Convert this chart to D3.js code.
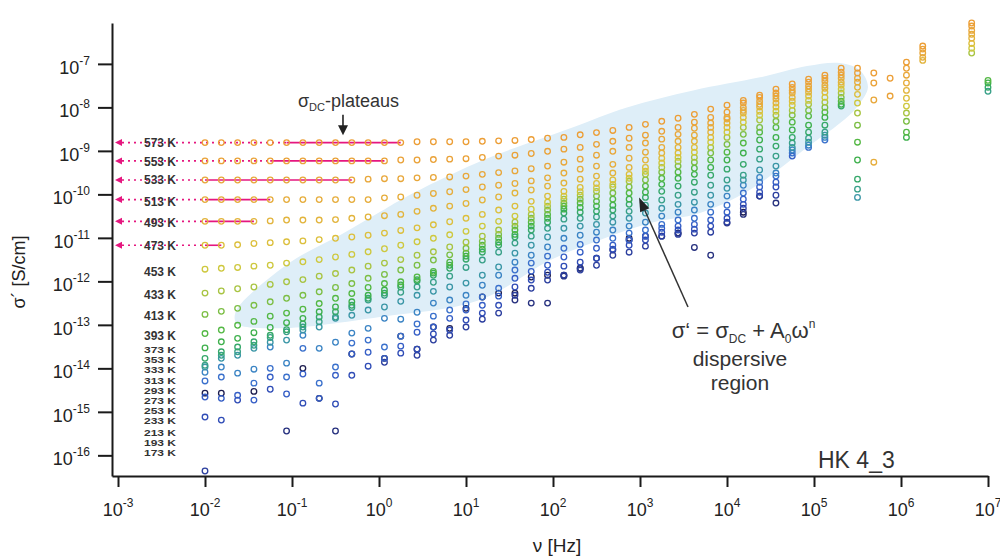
<!DOCTYPE html>
<html><head><meta charset="utf-8">
<script src="https://cdn.jsdelivr.net/npm/d3@7"></script>
<style>
html,body{margin:0;padding:0;background:#fff;}
svg{display:block;font-family:"Liberation Sans",Arial,Helvetica,sans-serif;}
</style></head><body>
<svg id="chart" width="1000" height="558"></svg>
<script>
// ---------- DATA ----------
// measurement frequencies (Hz)
const frequencies = [0.01,0.0154,0.0237,0.0365,0.0562,0.0866,0.1334,0.2054,0.3162,0.487,0.7499,1.155,1.778,2.738,4.217,6.494,10,15.40,23.71,36.52,56.23,86.60,133.4,205.4,316.2,487.0,749.9,1155,1778,2738,4217,6494,10000,15400,23710,36520,56230,86600,133400,205400,316200,487000,749900,1155000,1778000,2738000,4217000,6494000,10000000];
const temperatures = [573,553,533,513,493,473,453,433,413,393,373,353,333,313,293,273,253,233,213,193,173];
// log10 of sigma' (S/cm), one value per frequency (null = no point)
const s573 = [-8.81,-8.81,-8.81,-8.81,-8.81,-8.81,-8.81,-8.81,-8.81,-8.81,-8.81,-8.81,-8.81,-8.79,-8.79,-8.79,-8.79,-8.78,-8.77,-8.76,-8.74,-8.71,-8.69,-8.63,-8.58,-8.53,-8.46,-8.39,-8.32,-8.25,-8.16,-8.04,-7.95,-7.84,-7.72,-7.58,-7.46,-7.35,-7.26,-7.10,-7.10,-7.21,-7.33,-6.96,-6.59,null,null,-6.06];
const s553 = [-9.23,-9.23,-9.23,-9.23,-9.23,-9.23,-9.23,-9.23,-9.23,-9.23,-9.23,-9.23,-9.21,-9.21,-9.20,-9.19,-9.18,-9.15,-9.12,-9.10,-9.06,-9.01,-8.96,-8.92,-8.85,-8.78,-8.71,-8.64,-8.55,-8.46,-8.34,-8.23,-8.11,-7.90,-7.77,-7.67,-7.54,-7.42,-7.33,-7.19,-7.21,-7.44,-7.74,-7.10,-6.66,null,null,-6.13];
const s533 = [-9.67,-9.67,-9.67,-9.67,-9.67,-9.67,-9.67,-9.67,-9.67,-9.67,-9.65,-9.64,-9.64,-9.62,-9.61,-9.60,-9.58,-9.54,-9.50,-9.46,-9.41,-9.35,-9.26,-9.19,-9.10,-9.01,-8.92,-8.82,-8.73,-8.62,-8.48,-8.36,-8.23,-8.00,-7.86,-7.74,-7.61,-7.51,-7.40,-7.26,-7.33,-7.83,null,-7.26,-6.75,null,null,-6.23];
const s513 = [-10.12,-10.12,-10.12,-10.12,-10.12,-10.12,-10.12,-10.12,-10.12,-10.12,-10.12,-10.08,-10.06,-10.02,-9.98,-9.94,-9.89,-9.83,-9.79,-9.75,-9.69,-9.62,-9.51,-9.42,-9.35,-9.31,-9.17,-9.03,-8.92,-8.78,-8.64,-8.46,-8.27,-8.07,-7.93,-7.81,-7.67,-7.58,-7.49,-7.33,-7.42,-9.26,null,-7.44,-6.85,null,null,-6.32];
const s493 = [-10.62,-10.62,-10.62,-10.62,-10.61,-10.59,-10.59,-10.59,-10.58,-10.55,-10.52,-10.49,-10.46,-10.39,-10.32,-10.27,-10.21,-10.13,-10.06,-9.97,-9.90,-9.81,-9.74,-9.65,-9.58,-9.51,-9.38,-9.21,-9.05,-8.92,-8.78,-8.57,-8.36,-8.13,-7.99,-7.90,-7.77,-7.65,-7.56,-7.42,-7.54,null,null,-7.61,-6.92,null,null,-6.41];
const s473 = [-11.17,-11.17,-11.16,-11.13,-11.11,-11.09,-11.07,-11.04,-11.01,-10.98,-10.94,-10.89,-10.83,-10.77,-10.70,-10.63,-10.55,-10.46,-10.36,-10.27,-10.16,-10.04,-9.93,-9.84,-9.75,-9.67,-9.54,-9.38,-9.17,-9.05,-8.92,-8.69,-8.46,-8.23,-8.09,-7.99,-7.86,-7.74,-7.65,-7.49,-7.70,null,null,-7.79,null,null,null,-6.53];
const s453 = [-11.72,-11.70,-11.68,-11.65,-11.63,-11.58,-11.55,-11.50,-11.44,-11.38,-11.32,-11.25,-11.17,-11.09,-11.01,-10.93,-10.85,-10.73,-10.62,-10.50,-10.34,-10.18,-10.04,-9.94,-9.85,-9.77,-9.63,-9.47,-9.28,-9.15,-9.03,-8.80,-8.57,-8.34,-8.18,-8.09,-7.95,-7.84,-7.77,-7.58,-7.90,null,null,-7.97,null,null,null,-6.64];
const s433 = [-12.27,-12.22,-12.17,-12.13,-12.07,-12.01,-11.96,-11.88,-11.82,-11.74,-11.65,-11.58,-11.50,-11.40,-11.32,-11.21,-11.10,-10.96,-10.82,-10.64,-10.46,-10.27,-10.11,-10.02,-9.93,-9.83,-9.70,-9.54,-9.38,-9.24,-9.15,-8.92,-8.69,-8.46,-8.29,-8.18,-8.07,-7.93,-7.88,-7.67,-8.13,null,null,-8.13,null,null,null,-6.75];
const s413 = [-12.76,-12.69,-12.62,-12.55,-12.47,-12.39,-12.32,-12.24,-12.14,-12.05,-11.93,-11.84,-11.74,-11.63,-11.51,-11.39,-11.24,-11.08,-10.92,-10.73,-10.55,-10.36,-10.20,-10.11,-10.04,-9.97,-9.83,-9.67,-9.49,-9.35,-9.26,-9.05,-8.85,-8.62,-8.46,-8.32,-8.18,-8.07,-8.00,-7.77,-8.41,null,null,-8.32];
const s393 = [-13.20,-13.12,-13.01,-12.92,-12.80,-12.73,-12.64,-12.51,-12.39,-12.28,-12.14,-12.05,-12.01,-11.90,-11.77,-11.56,-11.35,-11.17,-11.01,-10.82,-10.64,-10.46,-10.27,-10.20,-10.16,-10.11,-9.97,-9.81,-9.63,-9.49,-9.40,-9.21,-9.03,-8.82,-8.57,-8.46,-8.34,-8.20,-8.11,-7.86,-8.80,null,null,-8.57,null,null,null,null,-7.38];
const s373 = [-13.53,-13.39,-13.31,-13.18,-13.06,-12.95,-12.85,-12.70,-12.59,-12.47,-12.32,-12.20,-12.08,-11.96,-11.81,-11.63,-11.42,-11.26,-11.10,-10.92,-10.73,-10.55,-10.34,-10.30,-10.27,-10.25,-10.11,-9.95,-9.77,-9.63,-9.54,-9.38,-9.21,-9.05,-8.75,-8.69,-8.52,-8.41,-8.23,-7.93,-9.21,null,null,-8.69,null,null,null,null,-7.44];
const s353 = [-13.77,-13.62,-13.51,-13.39,-13.24,-13.11,-12.98,-12.82,-12.70,-12.55,-12.39,-12.27,-12.13,-11.99,-11.86,-11.70,-11.49,-11.33,-11.17,-10.98,-10.82,-10.64,-10.43,-10.41,-10.39,-10.36,-10.23,-10.07,-9.93,-9.81,-9.72,-9.56,-9.42,-9.31,-8.96,-8.89,-8.69,-8.57,-8.41,-7.97,-9.65,null,null,null,null,null,null,null,-7.54];
const s333 = [-13.93,-13.70,-13.62,-13.47,-13.29,-13.16,-13.05,-12.93,-12.82,-12.60,-12.43,-12.32,-12.25,-12.13,-12.02,-11.88,-11.68,-11.51,-11.33,-11.12,-10.96,-10.78,-10.57,-10.55,-10.52,-10.50,-10.39,-10.25,-10.13,-10.02,-9.95,-9.79,-9.67,-9.56,-9.19,-9.12,-8.82,-8.71,-8.57,null,-9.88,null,null,null,null,null,null,null,-7.63];
const s313 = [-13.97,-13.77,-13.70,-13.54,-13.40,-13.35,-13.12,-13.05,-12.85,-12.78,-12.66,-12.59,-12.46,-12.32,-12.23,-12.13,-12.04,-11.86,-11.67,-11.35,-11.17,-10.98,-10.78,-10.73,-10.69,-10.64,-10.55,-10.43,-10.32,-10.23,-10.18,-10.02,-9.86,-9.67,-9.44,-9.35,-8.92,-8.80,-8.64,null,-10.07];
const s293 = [-14.09,-13.97,-14.11,-14.02,-13.51,-13.88,-13.24,-13.54,-13.40,-13.19,-13.08,-12.85,-12.87,-12.71,-12.50,-12.43,-12.32,-12.09,-11.86,-11.56,-11.40,-11.21,-11.01,-10.94,-10.87,-10.82,-10.73,-10.64,-10.50,-10.41,-10.36,-10.23,-10.04,-9.79,-9.61,-9.51,-8.98,-8.87,-8.69];
const s273 = [-14.29,-14.20,null,-14.34,-14.00,-14.20,-13.54,-14.34,-13.97,-13.42,-13.35,-13.51,-13.26,-12.98,-12.80,-12.66,-12.52,-12.36,-12.16,-11.74,-11.58,-11.42,-11.24,-11.15,-11.05,-11.01,-10.89,-10.82,-10.69,-10.59,-10.55,-10.41,-10.25,-9.97,-9.72,-9.58,-9.05,-8.92,-8.75];
const s253 = [-14.66,-14.69,-14.62,-14.73,-14.20,-14.59,-14.13,-14.69,-14.16,-13.67,-13.63,-13.77,-13.49,-13.17,-13.05,-12.85,-12.66,-12.55,-12.34,-11.93,-11.77,-11.63,-11.44,-11.33,-11.24,-11.17,-11.05,-10.96,-10.78,-10.73,-10.69,-10.59,-10.41,-10.11,-9.83,-9.72,-9.12];
const s233 = [-15.12,-15.19,-14.73,null,-14.48,null,-14.80,null,-14.82,-14.16,-13.95,null,-13.65,-13.56,-13.21,-13.12,-12.89,-12.73,-12.55,-12.13,-11.97,-11.79,-11.65,-11.56,-11.47,-11.26,-11.17,-11.05,-10.87,-10.82,-10.80,-10.73,-10.55,-10.23,-9.95,-9.83];
const s213 = [-16.36,null,null,null,null,null,null,null,null,null,null,-13.86,null,-13.70,-13.35,-13.24,-13.05,-12.87,-12.73,-12.32,-12.16,-11.97,-11.86,-11.74,-11.63,-11.40,-11.33,-11.19,-10.96,-10.92,-10.89,-10.87,-10.64,-10.32,-10.04,-10.02];
const s193 = [null,null,null,null,null,-15.44,null,null,-15.44,null,null,null,null,null,null,null,null,null,null,-12.43,-12.50,-12.50,-11.88,-11.70,-11.47,-11.28,-11.05,-10.96,-10.96,-10.89,-11.22,-11.40,-10.66,-10.46,-10.04,-10.20];
const s173 = [-14.57,-14.57,null,-14.53,null,null,-14.00,-14.69,null,-13.67,null,-13.77,-13.26,-13.56,-13.05,-13.08,-12.62,-12.36,-12.27,-12.27,-11.90,-11.86,-11.86,-11.70,null,null,-11.01,null,null,-10.89,null,null,null,-10.41];
const seriesValues = [s573,s553,s533,s513,s493,s473,s453,s433,s413,s393,s373,s353,s333,s313,s293,s273,s253,s233,s213,s193,s173];

// temperature label levels (log10 sigma)
const labelLevels = [-8.82,-9.24,-9.67,-10.16,-10.64,-11.17,-11.77,-12.30,-12.78,-13.26,-13.56,-13.79,-14.04,-14.29,-14.52,-14.75,-14.98,-15.21,-15.47,-15.70,-15.93];
// sigma_DC plateaus
const plateauTemps  = [573,553,533,513,493,473];
const plateauLevels = [-8.81,-9.23,-9.67,-10.12,-10.62,-11.17];
const plateauFrom   = [0.0866,0.0562,0.01,0.01,0.01,0.01];
const plateauTo     = [1.778,1.155,0.487,0.0562,0.0365,0.0154];
// axis tick exponents
const xTickExponents = [-3,-2,-1,0,1,2,3,4,5,6,7];
const yTickExponents = [-16,-15,-14,-13,-12,-11,-10,-9,-8,-7];
// dispersive region outline: [log10 f, log10 sigma]
const dispersiveRegion = [[-1.63,-12.98],[-1.66,-12.82],[-1.61,-12.57],[-1.02,-11.56],[-0.45,-10.94],[-0.01,-10.43],[0.30,-10.07],[1.20,-9.21],[2.20,-8.48],[2.85,-8.00],[3.61,-7.61],[4.38,-7.31],[4.92,-7.05],[5.30,-6.98],[5.53,-7.15],[5.62,-7.54],[5.49,-8.00],[5.30,-8.36],[4.92,-8.92],[4.26,-9.90],[3.69,-10.43],[3.12,-10.66],[2.54,-11.05],[1.97,-11.51],[1.16,-12.43],[0.01,-12.82],[-1.14,-13.08]];

// ---------- STYLE ----------
const tempColors = ["#ec9e36","#eaa238","#e8a73a","#e6ad3c","#e2b43c","#dcbf3c","#cec83e","#a8c442","#7cbe44","#54b844","#3eb04c","#36a86a","#38a088","#3a96a6","#3b84c4","#3a70cc","#355ec6","#2f4cb6","#2b3e9e","#26307e","#1d1d4f"];
const pink = "#e5177f";

// ---------- SCALES ----------
const svg = d3.select("#chart");
const x = d3.scaleLog().domain([Math.pow(10,-3.069), 1e7]).range([112, 988]);
const y = d3.scaleLog().domain([Math.pow(10,-16.475), Math.pow(10,-6.06)]).range([476, 23]);
const P = v => Math.pow(10, v);

// dispersive region
svg.append("path")
  .attr("d", d3.line().x(d => x(P(d[0]))).y(d => y(P(d[1]))).curve(d3.curveCatmullRomClosed.alpha(0.5))(dispersiveRegion))
  .attr("fill", "#deeef8");

// axes
const xAxis = d3.axisBottom(x).tickValues(xTickExponents.map(P)).tickSize(11).tickSizeOuter(0).tickFormat(() => "");
const yAxis = d3.axisLeft(y).tickValues(yTickExponents.map(P)).tickSize(14).tickSizeOuter(0).tickFormat(() => "");
const gx = svg.append("g").attr("transform", "translate(0,476)").call(xAxis);
const gy = svg.append("g").attr("transform", "translate(112,0)").call(yAxis);
[gx, gy].forEach(g => {
  g.select(".domain").attr("stroke", "#1a1a1a").attr("stroke-width", 2);
  g.selectAll(".tick line").attr("stroke", "#1a1a1a").attr("stroke-width", 2);
});
xTickExponents.forEach(e => {
  const t = svg.append("text").attr("x", x(P(e))).attr("y", 516).attr("text-anchor", "middle")
    .attr("font-size", 18).attr("fill", "#222");
  t.append("tspan").text("10");
  t.append("tspan").attr("dy", -9).attr("font-size", 12).text(e);
});
yTickExponents.forEach(e => {
  const t = svg.append("text").attr("x", 90).attr("y", y(P(e)) + 10).attr("text-anchor", "end")
    .attr("font-size", 18).attr("fill", "#222");
  t.append("tspan").text("10");
  t.append("tspan").attr("dy", -9).attr("font-size", 12).text(e);
});
svg.append("text").attr("transform", "translate(25,272) rotate(-90)").attr("text-anchor", "middle")
  .attr("font-size", 18).attr("fill", "#222").text("σ´ [S/cm]");
svg.append("text").attr("x", 557).attr("y", 552).attr("text-anchor", "middle")
  .attr("font-size", 19).attr("fill", "#222").text("ν [Hz]");

// plateau dotted arrows + solid lines
plateauTemps.forEach((T, k) => {
  const yy = y(P(plateauLevels[k]));
  svg.append("line").attr("x1", 122).attr("x2", x(plateauFrom[k])).attr("y1", yy).attr("y2", yy)
    .attr("stroke", pink).attr("stroke-width", 1.6).attr("stroke-dasharray", "2,4");
  svg.append("path").attr("d", `M115,${yy}L122,${yy-3.5}L122,${yy+3.5}Z`).attr("fill", pink);
  svg.append("line").attr("x1", x(plateauFrom[k])).attr("x2", x(plateauTo[k])).attr("y1", yy).attr("y2", yy)
    .attr("stroke", pink).attr("stroke-width", 1.6);
});

// temperature labels (the closely stacked low-temperature ones are compressed vertically)
temperatures.forEach((T, k) => {
  const lx = x(frequencies[0]) - 29, ly = y(P(labelLevels[k]));
  const sy = k >= 10 ? 0.76 : 1;
  svg.append("text").attr("transform", `translate(${lx},${ly}) scale(1,${sy})`).attr("dy", "0.36em")
    .attr("text-anchor", "end").attr("font-size", 12).attr("font-weight", "bold").attr("fill", "#333")
    .text(T + " K");
});

// data points
const pts = [];
temperatures.forEach((T, k) => {
  seriesValues[k].forEach((v, i) => {
    if (v === null || v === undefined) return;
    pts.push({k, f: frequencies[i], s: P(v)});
  });
});
pts.sort((a, b) => b.k - a.k);
svg.append("g").selectAll("circle").data(pts).join("circle")
  .attr("cx", d => x(d.f)).attr("cy", d => y(d.s)).attr("r", 2.8)
  .attr("fill", "none").attr("stroke", d => tempColors[d.k]).attr("stroke-width", 1.3);

// annotations
const ann = "#333";
const pt = svg.append("text").attr("x", x(P(-0.931))).attr("y", y(P(-8.0))).attr("font-size", 18).attr("fill", ann);
pt.append("tspan").text("σ");
pt.append("tspan").attr("font-size", 11).attr("dy", 4).text("DC");
pt.append("tspan").attr("dy", -4).text("-plateaus");
const ax = x(P(-0.414)), ay1 = y(P(-8.17)), ay2 = y(P(-8.64));
svg.append("line").attr("x1", ax).attr("x2", ax).attr("y1", ay1).attr("y2", ay2 - 8).attr("stroke", "#222").attr("stroke-width", 1.6);
svg.append("path").attr("d", `M${ax},${ay2}L${ax-5},${ay2-10}L${ax+5},${ay2-10}Z`).attr("fill", "#222");

// dispersive arrow
const tx = x(P(3.552)), ty = y(P(-12.59)), hx = x(P(2.989)), hy = y(P(-10.07));
const ang = Math.atan2(hy - ty, hx - tx);
const hl = 14, hw = 5;
const bx = hx - hl * Math.cos(ang), by = hy - hl * Math.sin(ang);
svg.append("line").attr("x1", tx).attr("y1", ty).attr("x2", bx).attr("y2", by).attr("stroke", "#333").attr("stroke-width", 1.5);
svg.append("path").attr("d", `M${hx},${hy}L${bx + hw*Math.sin(ang)},${by - hw*Math.cos(ang)}L${bx - hw*Math.sin(ang)},${by + hw*Math.cos(ang)}Z`).attr("fill", "#222");

const fx = x(P(4.19));
const ft = svg.append("text").attr("x", fx).attr("y", y(P(-13.31))).attr("text-anchor", "middle").attr("font-size", 22).attr("fill", ann);
ft.append("tspan").text("σ‘ = σ");
ft.append("tspan").attr("font-size", 12).attr("dy", 5).text("DC");
ft.append("tspan").attr("dy", -5).text(" + A");
ft.append("tspan").attr("font-size", 12).attr("dy", 5).text("0");
ft.append("tspan").attr("dy", -5).text("ω");
ft.append("tspan").attr("font-size", 12).attr("dy", -10).text("n");
const dx = x(P(4.149));
svg.append("text").attr("x", dx).attr("y", y(P(-13.95))).attr("text-anchor", "middle").attr("font-size", 21).attr("fill", ann).text("dispersive");
svg.append("text").attr("x", dx).attr("y", y(P(-14.50))).attr("text-anchor", "middle").attr("font-size", 21).attr("fill", ann).text("region");

svg.append("text").attr("x", x(P(5.046))).attr("y", y(P(-16.29))).attr("font-size", 23).attr("fill", ann).text("HK 4_3");
</script>
</body></html>
